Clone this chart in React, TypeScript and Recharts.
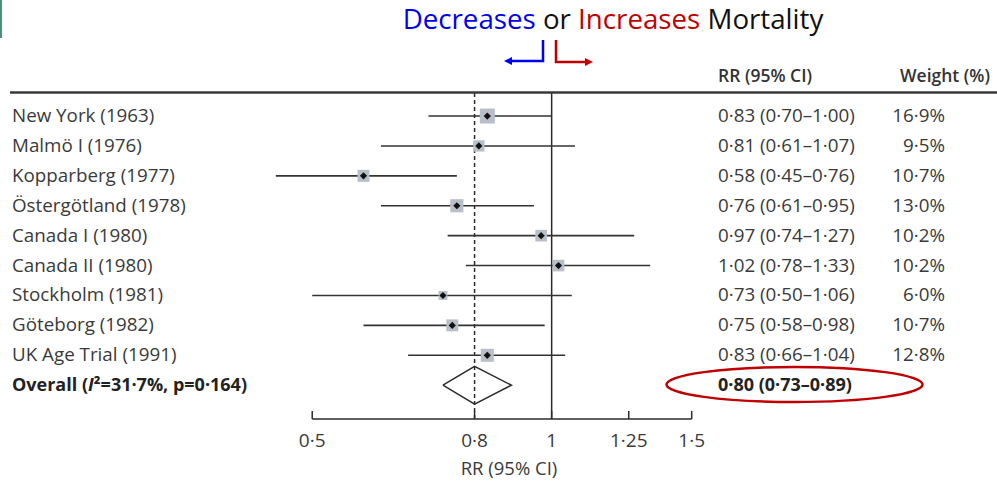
import React from 'react';
import {
  ComposedChart,
  XAxis,
  YAxis,
  Scatter,
  ErrorBar,
  ReferenceLine,
} from 'recharts';

// trial rows, top to bottom
const studies = [
  'New York (1963)',
  'Malmö I (1976)',
  'Kopparberg (1977)',
  'Östergötland (1978)',
  'Canada I (1980)',
  'Canada II (1980)',
  'Stockholm (1981)',
  'Göteborg (1982)',
  'UK Age Trial (1991)',
];
const rr = [0.83, 0.81, 0.58, 0.76, 0.97, 1.02, 0.73, 0.75, 0.83];
const ciLow = [0.7, 0.61, 0.45, 0.61, 0.74, 0.78, 0.5, 0.58, 0.66];
const ciHigh = [1.0, 1.07, 0.76, 0.95, 1.27, 1.33, 1.06, 0.98, 1.04];
const weights = [16.9, 9.5, 10.7, 13.0, 10.2, 10.2, 6.0, 10.7, 12.8];

const overallLabel = 'Overall';
const overallRR = 0.8;
const overallLow = 0.73;
const overallHigh = 0.89;

const xTicks = [0.5, 0.8, 1, 1.25, 1.5];

const FONT = '"Open Sans", sans-serif';
const TEXT = '#3a3a3a';
const LINE = '#2b2b2b';
const FS = 18.8;

const overallRow = studies.length;
const rowTicks = [...studies.map((_, i) => i), overallRow];

const dot = (v: number, digits: number) => v.toFixed(digits).replace('.', '·');
const tickText = (v: number) => String(v).replace('.', '·');
const ciText = (m: number, lo: number, hi: number) =>
  `${dot(m, 2)} (${dot(lo, 2)}–${dot(hi, 2)})`;

const studyData = studies.map((name, i) => ({
  name,
  x: rr[i],
  y: i,
  w: weights[i],
  err: [rr[i] - ciLow[i], ciHigh[i] - rr[i]],
}));

// diamond outline for the pooled estimate
const diamondHalf = 0.63;
const diamondData = [
  { x: overallLow, y: overallRow },
  { x: overallRR, y: overallRow - diamondHalf },
  { x: overallHigh, y: overallRow },
  { x: overallRR, y: overallRow + diamondHalf },
  { x: overallLow, y: overallRow },
];

const StudyMarker = (props: any) => {
  const { cx, cy, payload } = props;
  const side = 3.65 * Math.sqrt(payload.w);
  const d = 3.6;
  return (
    <g>
      <rect x={cx - side / 2} y={cy - side / 2} width={side} height={side} fill="#b8bfc8" />
      <path d={`M${cx - d},${cy} L${cx},${cy - d} L${cx + d},${cy} L${cx},${cy + d} Z`} fill="#111" />
    </g>
  );
};

const LeftTick = (props: any) => {
  const { y, payload } = props;
  const i = payload.value;
  if (i === overallRow) {
    return (
      <text x={12} y={y + 6} fontFamily={FONT} fontSize={FS - 0.8} fontWeight={700} fill="#222">
        {overallLabel} (<tspan fontStyle="italic">I</tspan>²=31·7%, p=0·164)
      </text>
    );
  }
  return (
    <text x={12} y={y + 6} fontFamily={FONT} fontSize={FS} fill={TEXT}>
      {studies[i]}
    </text>
  );
};

const RightTick = (props: any) => {
  const { y, payload } = props;
  const i = payload.value;
  if (i === overallRow) {
    return (
      <text x={718} y={y + 6} fontFamily={FONT} fontSize={FS - 0.8} fontWeight={700} fill="#222">
        {ciText(overallRR, overallLow, overallHigh)}
      </text>
    );
  }
  return (
    <g>
      <text x={718} y={y + 6} fontFamily={FONT} fontSize={FS} fill={TEXT}>
        {ciText(rr[i], ciLow[i], ciHigh[i])}
      </text>
      <text x={945} y={y + 6} fontFamily={FONT} fontSize={FS} fill={TEXT} textAnchor="end">
        {dot(weights[i], 1)}%
      </text>
    </g>
  );
};

const BottomTick = (props: any) => {
  const { x, y, payload } = props;
  return (
    <g>
      <line x1={x} x2={x} y1={y - 8} y2={y} stroke={LINE} strokeWidth={1.5} />
      <text x={x} y={y + 28} fontFamily={FONT} fontSize={19} fill={TEXT} textAnchor="middle">
        {tickText(payload.value)}
      </text>
    </g>
  );
};

const Overlay = () => (
  <svg
    width={997}
    height={484}
    style={{ position: 'absolute', left: 0, top: 0, pointerEvents: 'none' }}
  >
    <rect x={0} y={0} width={2} height={38} fill="#4f8f73" />
    <text x={613} y={29} fontFamily={FONT} fontSize={27.7} textAnchor="middle">
      <tspan fill="#0000f0">Decreases</tspan>
      <tspan fill="#111"> or </tspan>
      <tspan fill="#c00000">Increases</tspan>
      <tspan fill="#111"> Mortality</tspan>
    </text>
    {/* direction arrows */}
    <polyline points="543,40 543,61 510,61" fill="none" stroke="#0000f0" strokeWidth={2.5} />
    <path d="M504,61 L512,57 L512,65 Z" fill="#0000f0" />
    <polyline points="556,40 556,62 587,62" fill="none" stroke="#c00000" strokeWidth={2.5} />
    <path d="M593,62 L585,58 L585,66 Z" fill="#c00000" />
    <text x={718} y={82} fontFamily={FONT} fontSize={17.5} fontWeight={600} fill="#333">
      RR (95% CI)
    </text>
    <text x={990} y={82} fontFamily={FONT} fontSize={17.5} fontWeight={600} fill="#333" textAnchor="end">
      Weight (%)
    </text>
    <line x1={10} x2={997} y1={92.5} y2={92.5} stroke="#3a3a3a" strokeWidth={2.5} />
    <ellipse cx={794.5} cy={384.5} rx={128} ry={17.5} fill="none" stroke="#c00000" strokeWidth={2.5} />
    <text x={509} y={475} fontFamily={FONT} fontSize={18.5} fill={TEXT} textAnchor="middle">
      RR (95% CI)
    </text>
  </svg>
);

export default function App() {
  return (
    <div style={{ position: 'absolute', left: 0, top: 0, width: 997, height: 484, background: '#fff' }}>
      <ComposedChart
        width={997}
        height={484}
        margin={{ top: 93, right: 0, bottom: 0, left: 0 }}
      >
        <XAxis
          type="number"
          dataKey="x"
          scale="log"
          domain={[0.42, 1.6]}
          allowDataOverflow
          ticks={xTicks}
          interval={0}
          height={65}
          axisLine={false}
          tickLine={false}
          tickSize={0}
          tickMargin={0}
          tick={<BottomTick />}
        />
        <YAxis
          yAxisId="left"
          type="number"
          dataKey="y"
          domain={[-0.77, 10.13]}
          allowDataOverflow
          reversed
          ticks={rowTicks}
          interval={0}
          width={252}
          axisLine={false}
          tickLine={false}
          tick={<LeftTick />}
        />
        <YAxis
          yAxisId="right"
          orientation="right"
          type="number"
          dataKey="y"
          domain={[-0.77, 10.13]}
          allowDataOverflow
          reversed
          ticks={rowTicks}
          interval={0}
          width={283}
          axisLine={false}
          tickLine={false}
          tick={<RightTick />}
        />
        <ReferenceLine yAxisId="left" x={1} stroke={LINE} strokeWidth={1.5} />
        <ReferenceLine yAxisId="left" x={overallRR} stroke={LINE} strokeWidth={1.5} strokeDasharray="4 3" />
        <ReferenceLine
          yAxisId="left"
          segment={[
            { x: xTicks[0], y: 10.13 },
            { x: xTicks[xTicks.length - 1], y: 10.13 },
          ]}
          stroke={LINE}
          strokeWidth={1.5}
          ifOverflow="visible"
        />
        <Scatter
          yAxisId="left"
          data={studyData}
          shape={<StudyMarker />}
          isAnimationActive={false}
        >
          <ErrorBar dataKey="err" direction="x" width={0} stroke="#333" strokeWidth={1.6} isAnimationActive={false} />
        </Scatter>
        <Scatter
          yAxisId="left"
          data={diamondData}
          line={{ stroke: LINE, strokeWidth: 1.5 }}
          shape={() => <g />}
          isAnimationActive={false}
        />
      </ComposedChart>
      <Overlay />
    </div>
  );
}
